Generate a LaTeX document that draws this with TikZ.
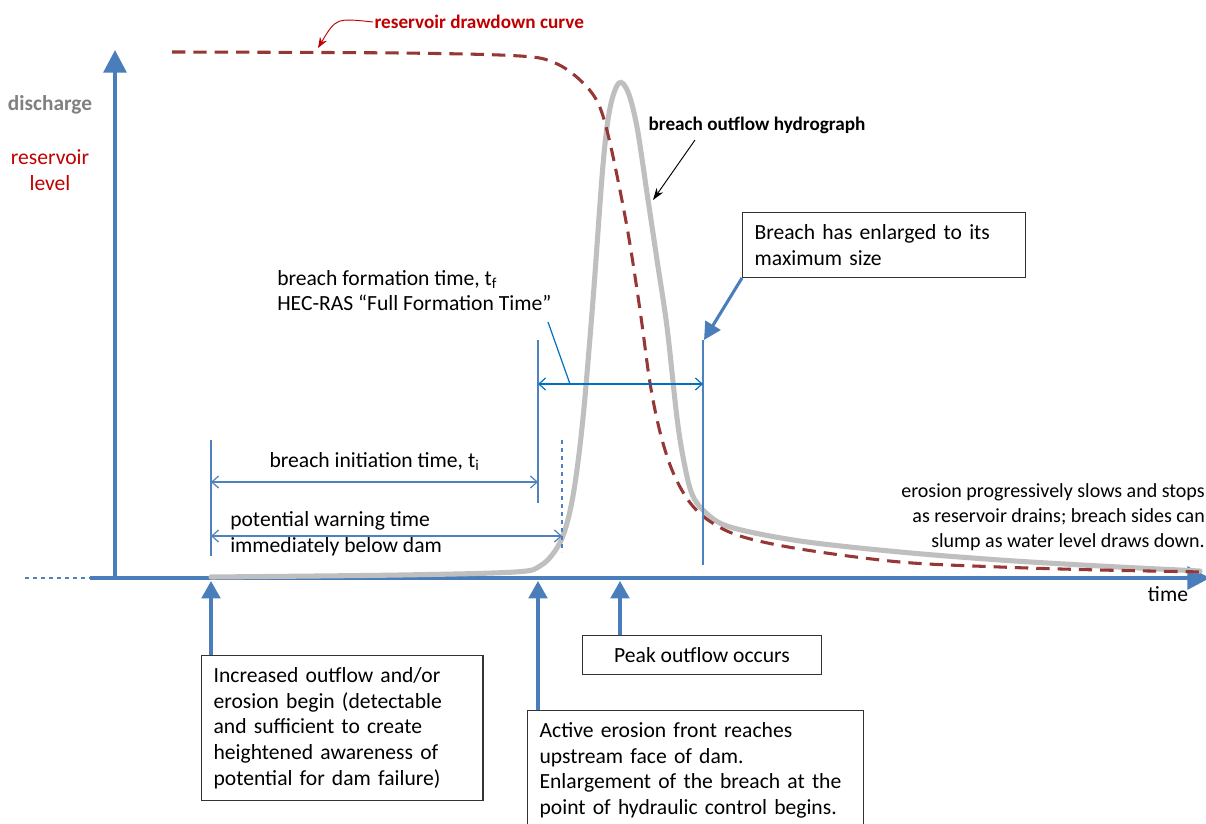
\documentclass[tikz,border=0pt]{standalone}
\usepackage{fontspec}
\setmainfont{Carlito}
\usetikzlibrary{arrows.meta, calc, positioning}

\definecolor{axisblue}{RGB}{74,126,187}
\definecolor{dimblue}{RGB}{79,129,189}
\definecolor{formblue}{RGB}{0,112,192}
\definecolor{damred}{RGB}{149,55,53}
\definecolor{labelred}{RGB}{192,0,0}
\definecolor{hydgray}{RGB}{191,191,191}

\tikzset{
	txt/.style={inner sep=0pt, text=black, font=\fontsize{16.2}{19.2}\selectfont},
	tag/.style={inner sep=1pt, font=\fontsize{14.4}{17}\selectfont\bfseries},
	box/.style={txt, draw=black!80, line width=0.9pt, fill=white, align=left, inner xsep=9pt, inner ysep=9pt},
	axis/.style={axisblue, line width=3pt, -{Triangle[width=17pt,length=17pt]}},
	up/.style={axisblue, line width=2.3pt, -{Triangle[width=14pt,length=13pt]}},
	dim/.style={dimblue, line width=0.9pt},
	dimarr/.style={dim, {Straight Barb[length=5pt,width=9pt]}-{Straight Barb[length=5pt,width=9pt]}},
}

\begin{document}
\begin{tikzpicture}[x=0.75pt, y=-0.75pt]
		\clip (0,0) rectangle (1206,824);
		\fill[white] (0,0) rectangle (1206,824);
		
		\coordinate (xs) at (25,578);
		\coordinate (xl) at (90,578);
		\coordinate (xr) at (1210,578);
		\coordinate (o) at (115,580);
		\coordinate (ytop) at (115,50);
		\draw[dimblue, dashed, line width=0.9pt] (xs) -- (xl);
		\draw[axis] (xl) -- (xr);
		\draw[axis] (o) -- (ytop);
		\node[tag, font=\fontsize{16}{19}\selectfont\bfseries, text=black!50] (qlab) at (50,105) {discharge};
		\node[txt, text=labelred, align=center] (hlab) at (50,170) {reservoir\\level};
		\node[txt] (timelab) at (1168,594) {time};
		
		\draw[hydgray, line width=3.8pt, line cap=round] plot[smooth, tension=0.55] coordinates {(211,577) (400,575) (515,572) (540,566) (555,551) (565,530) (574,490) (583,418) (593,300) (603,165) (610,108) (619,83) (628,92) (637,127) (647,193) (657,260) (667,327) (677,418) (684,462) (692,494) (705,512) (730,527) (800,541) (900,552) (1000,560) (1100,566) (1200,571)};
		\draw[damred, line width=2.3pt, dash pattern=on 10pt off 6pt] plot[smooth, tension=0.55] coordinates {(172,52) (400,53) (520,56) (555,63) (580,80) (598,103) (610,143) (627,227) (640,310) (650,383) (660,432) (672,470) (688,500) (708,520) (740,536) (800,549) (900,562) (1000,567) (1100,570) (1206,572)};
		
		\node[tag, text=labelred, anchor=west] (ddlab) at (373,22) {reservoir drawdown curve};
		\coordinate (ddpt) at (318,48);
		\draw[labelred, line width=0.7pt, -{Stealth[length=8pt,width=6pt]}] (ddlab.west) .. controls (336,18) .. (ddpt);
		\node[tag, anchor=west] (hydlab) at (647,125) {breach outflow hydrograph};
		\coordinate (hydfrom) at (695,140);
		\coordinate (hydpt) at (653,200);
		\draw[black, line width=0.7pt, -{Stealth[length=9pt,width=6pt]}] (hydfrom) -- (hydpt);
		
		\draw[dim] (211,440) -- (211,556);
		\draw[dim] (538,340) -- (538,503);
		\draw[dim] (703,340) -- (703,565);
		\draw[dim, dashed] (562,440) -- (562,552);
		
		\coordinate (a1) at (211,482);
		\coordinate (b1) at (538,482);
		\draw[dimarr] (a1) -- (b1) node[txt, midway, above=8pt] (initlab) {breach initiation time, t\textsubscript{i}};
		\coordinate (a2) at (211,536);
		\coordinate (c2) at (562,536);
		\draw[dimarr] (a2) -- (c2);
		\node[txt, anchor=west, align=left] (warnlab) at (230,534) {potential warning time\\immediately below dam};
		\coordinate (b3) at (538,384);
		\coordinate (d3) at (703,384);
		\draw[dimarr, formblue] (b3) -- (d3);
		\node[txt, anchor=north west, align=left] (formlab) at (277,270) {breach formation time, t\textsubscript{f}\\HEC-RAS “Full Formation Time”};
		\coordinate (formlead) at (548,322);
		\coordinate (formpt) at (570,384);
		\draw[formblue, line width=0.9pt] (formlead) -- (formpt);
		
		\node[box, anchor=north west, text width=194pt] (maxbox) at (742,212) {Breach has enlarged to its\\maximum size};
		\coordinate (tftop) at (704,340);
		\draw[axisblue, line width=2.3pt, -{Triangle[width=13pt,length=13pt]}] (maxbox.south west) -- (tftop);
		
		\node[txt, font=\fontsize{15}{18.8}\selectfont, anchor=north east, align=right] (slowlab) at (1205,483) {erosion progressively slows and stops\\as reservoir drains; breach sides can\\slump as water level draws down.};
		
		\coordinate (ti0) at (211,581);
		\coordinate (tb) at (538,581);
		\coordinate (tpk) at (620,581);
		\node[box, anchor=north west, text width=193pt] (incbox) at (201,655) {Increased outflow and/or\\erosion begin (detectable\\and sufficient to create\\heightened awareness of\\potential for dam failure)};
		\node[box, align=center, minimum width=179pt, minimum height=29pt, inner ysep=5pt] (pkbox) at (702,655) {Peak outflow occurs};
		\node[box, anchor=north west, text width=234pt] (actbox) at (527,710) {Active erosion front reaches\\upstream face of dam.\\Enlargement of the breach at the\\point of hydraulic control begins.};
		\draw[up] (ti0 |- incbox.north) -- (ti0);
		\draw[up] (tb |- actbox.north) -- (tb);
		\draw[up] (tpk |- pkbox.north) -- (tpk);
	\end{tikzpicture}
\end{document}
